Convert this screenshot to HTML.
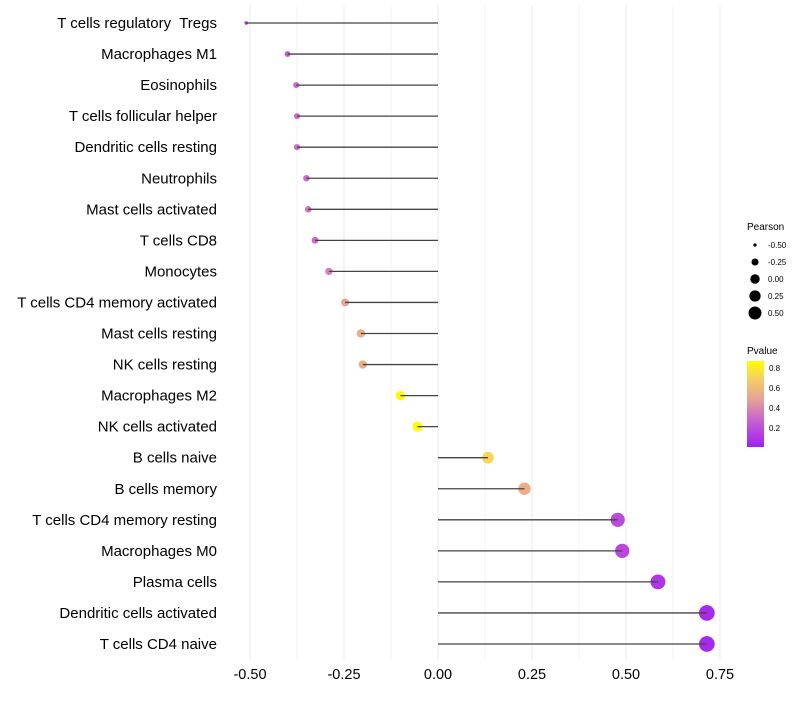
<!DOCTYPE html>
<html><head><meta charset="utf-8"><style>
body{margin:0;background:#fff;font-family:"Liberation Sans",sans-serif}
svg text{font-family:"Liberation Sans",sans-serif;white-space:pre}
</style></head><body>
<svg id="c" width="800" height="700">
<defs><linearGradient id="pg" x1="0" y1="1" x2="0" y2="0">
<stop offset="0" stop-color="#a020f0"/><stop offset="0.3" stop-color="#c660d0"/><stop offset="0.55" stop-color="#e5a09a"/><stop offset="0.8" stop-color="#f5d060"/><stop offset="1" stop-color="#ffff00"/></linearGradient></defs>
</svg>
<script>
const categories=["T cells regulatory  Tregs","Macrophages M1","Eosinophils","T cells follicular helper","Dendritic cells resting","Neutrophils","Mast cells activated","T cells CD8","Monocytes","T cells CD4 memory activated","Mast cells resting","NK cells resting","Macrophages M2","NK cells activated","B cells naive","B cells memory","T cells CD4 memory resting","Macrophages M0","Plasma cells","Dendritic cells activated","T cells CD4 naive"];
const pearson=[-0.51,-0.40,-0.377,-0.375,-0.375,-0.35,-0.345,-0.327,-0.29,-0.247,-0.205,-0.2,-0.1,-0.055,0.133,0.23,0.478,0.49,0.585,0.715,0.715];
const pvalue=[0.08,0.25,0.3,0.3,0.3,0.3,0.32,0.3,0.38,0.5,0.55,0.55,0.85,0.88,0.72,0.55,0.18,0.17,0.1,0.05,0.05];
const xTicks=[-0.5,-0.25,0,0.25,0.5,0.75];
const xTickLabels=["-0.50","-0.25","0.00","0.25","0.50","0.75"];
const sizeLegend=[-0.5,-0.25,0,0.25,0.5];
const sizeLegendLabels=["-0.50","-0.25","0.00","0.25","0.50"];
const colorTicks=[0.2,0.4,0.6,0.8];
const NS="http://www.w3.org/2000/svg",svg=document.getElementById('c');
const x=v=>438+v*376, y=i=>23+i*31.05;
const r=v=>Math.sqrt(3+(v+0.51)*48);
const cy=p=>448-p*100;
function mk(t,a,txt){const e=document.createElementNS(NS,t);for(const k in a)e.setAttribute(k,a[k]);if(txt!=null)e.textContent=txt;svg.appendChild(e);return e;}
function lerp(a,b,t){return a.map((v,i)=>Math.round(v+(b[i]-v)*t));}
const stops=[[0,[160,32,240]],[0.3,[198,96,208]],[0.55,[229,160,154]],[0.8,[245,208,96]],[1,[255,255,0]]];
function col(p){const t=Math.max(0,Math.min(1,(p-0.01)/0.86));for(let i=1;i<stops.length;i++){if(t<=stops[i][0]){const s=stops[i-1],e=stops[i];const c=lerp(s[1],e[1],(t-s[0])/(e[0]-s[0]));return `rgb(${c})`;}}return 'rgb(255,255,0)';}
for(let k=0;k<xTicks.length;k++){
 let e=mk('line',{x1:x(xTicks[k]),x2:x(xTicks[k]),y1:5,y2:660,stroke:'#ebebeb','stroke-width':1});
 
 if(k<xTicks.length-1){const m=(xTicks[k]+xTicks[k+1])/2;e=mk('line',{x1:x(m),x2:x(m),y1:5,y2:660,stroke:'#f3f3f3','stroke-width':1});
 }
 e=mk('text',{x:x(xTicks[k]),y:679,'text-anchor':'middle','font-size':14.5,fill:'#000'},xTickLabels[k]);
 
}
categories.forEach((c,i)=>{
 let e=mk('text',{x:217,y:y(i)+5,'text-anchor':'end','font-size':15,fill:'#000'},c);
 
 e=mk('circle',{cx:x(pearson[i]),cy:y(i),r:r(pearson[i]),fill:col(pvalue[i])});
 
 e=mk('line',{x1:x(0),x2:x(pearson[i]),y1:y(i),y2:y(i),stroke:'#444','stroke-width':1.3});
 
});
let t=mk('text',{x:747,y:230,'font-size':10},'Pearson');

sizeLegend.forEach((v,i)=>{
 let e=mk('circle',{cx:755,cy:245+i*17,r:r(v)*0.9,fill:'#000'});
 
 e=mk('text',{x:768,y:248+i*17,'font-size':8},sizeLegendLabels[i]);
 
});
t=mk('text',{x:747,y:354,'font-size':10},'Pvalue');

t=mk('rect',{x:747,y:361,width:17,height:86,fill:'url(#pg)'});

colorTicks.forEach(p=>{
 let e=mk('text',{x:769,y:cy(p)+3,'font-size':8},p.toFixed(1));
 
});
</script>
</body></html>
